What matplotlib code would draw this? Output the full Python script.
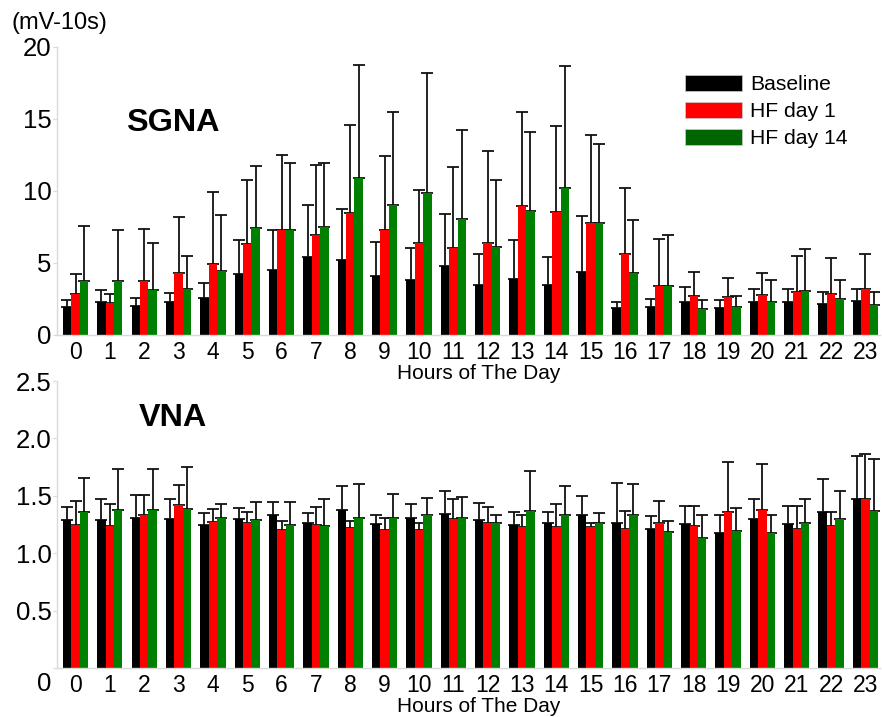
import numpy as np
import matplotlib
matplotlib.use('Agg')
import matplotlib.pyplot as plt
from matplotlib.patches import Patch
from matplotlib.transforms import ScaledTranslation

plt.rcParams['font.family'] = ['Liberation Sans', 'DejaVu Sans']

# Heures de la journee
hours = list(range(24))
series_names = ['Baseline', 'HF day 1', 'HF day 14']

# SGNA (mV-10s) : moyennes et bornes hautes des barres d'erreur
sgna_baseline = [1.97, 2.31, 2.01, 2.27, 2.59, 4.23, 4.49, 5.39, 5.18, 4.07, 3.79, 4.81,
                 3.49, 3.86, 3.45, 4.37, 1.90, 1.97, 2.27, 1.90, 2.27, 2.27, 2.17, 2.36]
sgna_baseline_top = [2.43, 3.10, 2.59, 2.89, 3.63, 6.57, 7.26, 9.02, 8.76, 6.47, 6.01, 8.37,
                     5.60, 6.61, 5.43, 8.23, 2.31, 2.52, 3.33, 2.43, 3.17, 3.21, 3.00, 3.17]
sgna_hf1 = [2.87, 2.22, 3.75, 4.32, 4.90, 6.34, 7.28, 6.91, 8.46, 7.28, 6.38, 6.03,
            6.38, 8.97, 8.55, 7.75, 5.64, 3.42, 2.71, 2.64, 2.80, 3.01, 2.84, 3.21]
sgna_hf1_top = [4.20, 2.84, 7.33, 8.18, 9.92, 10.73, 12.51, 11.77, 14.61, 12.46, 10.08, 11.63,
                12.76, 15.51, 14.52, 13.87, 10.22, 6.66, 4.37, 3.95, 4.32, 5.50, 5.32, 5.60]
sgna_hf14 = [3.75, 3.75, 3.12, 3.21, 4.44, 7.45, 7.28, 7.49, 10.87, 9.04, 9.83, 8.07,
             6.13, 8.60, 10.24, 7.75, 4.28, 3.40, 1.80, 1.97, 2.27, 3.05, 2.47, 2.10]
sgna_hf14_top = [7.56, 7.28, 6.38, 5.48, 8.35, 11.72, 11.91, 11.91, 18.75, 15.51, 18.17, 14.20,
                 10.75, 14.08, 18.68, 13.29, 7.98, 6.91, 2.43, 2.73, 3.84, 5.97, 3.79, 3.00]

# VNA
vna_baseline = [1.288, 1.290, 1.305, 1.296, 1.247, 1.296, 1.331, 1.259, 1.375, 1.253, 1.305, 1.343,
                1.290, 1.247, 1.259, 1.331, 1.265, 1.207, 1.253, 1.180, 1.296, 1.253, 1.357, 1.468]
vna_baseline_top = [1.404, 1.473, 1.511, 1.468, 1.354, 1.392, 1.447, 1.354, 1.584, 1.331, 1.433, 1.546,
                    1.441, 1.363, 1.357, 1.499, 1.610, 1.325, 1.410, 1.331, 1.473, 1.410, 1.647, 1.850]
vna_hf1 = [1.247, 1.233, 1.331, 1.421, 1.273, 1.265, 1.201, 1.247, 1.221, 1.201, 1.201, 1.296,
           1.259, 1.227, 1.227, 1.227, 1.209, 1.259, 1.233, 1.357, 1.375, 1.207, 1.238, 1.468]
vna_hf1_top = [1.453, 1.427, 1.511, 1.598, 1.383, 1.357, 1.285, 1.404, 1.285, 1.311, 1.267, 1.468,
               1.401, 1.337, 1.427, 1.265, 1.369, 1.459, 1.410, 1.798, 1.781, 1.415, 1.357, 1.868]
vna_hf14 = [1.363, 1.378, 1.378, 1.383, 1.305, 1.290, 1.247, 1.238, 1.305, 1.305, 1.331, 1.311,
            1.259, 1.369, 1.337, 1.265, 1.331, 1.186, 1.134, 1.192, 1.175, 1.265, 1.296, 1.369]
vna_hf14_top = [1.653, 1.731, 1.737, 1.755, 1.433, 1.447, 1.447, 1.473, 1.604, 1.517, 1.482, 1.494,
                1.331, 1.720, 1.589, 1.354, 1.604, 1.285, 1.331, 1.395, 1.331, 1.468, 1.540, 1.824]

bar_colors = ['#000000', '#ff0000', '#008000']
legend_colors = ['#000000', '#ff0000', '#006400']
spine_color = '#d9d9d9'

fig = plt.figure(figsize=(8.82, 7.17), dpi=100)
ax1 = fig.add_axes([0.0646, 0.5328, 0.933, 0.4017])
ax2 = fig.add_axes([0.0646, 0.0683, 0.933, 0.4003])
ax2.set_facecolor('none')  # sinon le fond cache le label du haut

x = np.arange(len(hours))
w = 0.245


def draw_panel(ax, means, tops):
    for i, (m, t) in enumerate(zip(means, tops)):
        m = np.array(m)
        err = np.array(t) - m
        pos = x + (i - 1) * w
        ax.bar(pos, m, width=w, color=bar_colors[i], edgecolor='none', zorder=2)
        ax.errorbar(pos, m, yerr=[np.zeros_like(err), err], fmt='none',
                    ecolor='#111111', elinewidth=1.3, capsize=4.3, capthick=1.3, zorder=1)
    ax.set_xlim(-0.54, 23.42)
    ax.set_xticks(x)
    ax.set_xticklabels([str(h) for h in hours])
    for s in ['top', 'right']:
        ax.spines[s].set_visible(False)
    for s in ['left', 'bottom']:
        ax.spines[s].set_color(spine_color)
        ax.spines[s].set_linewidth(1)
    ax.tick_params(axis='x', length=0, pad=4, labelsize=16.5)
    ax.tick_params(axis='y', length=3, color=spine_color, pad=1, labelsize=18.5)
    ax.set_xlabel('Hours of The Day', fontsize=15, labelpad=0.5)
    ax.xaxis.label.set_x(0.512)


# Panneau SGNA
draw_panel(ax1, [sgna_baseline, sgna_hf1, sgna_hf14],
           [sgna_baseline_top, sgna_hf1_top, sgna_hf14_top])
ax1.set_ylim(0, 20)
ax1.set_yticks([0, 5, 10, 15, 20])
ax1.text(0.084, 14.7, 'SGNA', fontsize=23.3, fontweight='bold', ha='left', va='center',
         transform=ax1.get_yaxis_transform())
fig.text(0.013, 0.968, '(mV-10s)', fontsize=17, ha='left', va='center')

handles = [Patch(facecolor=c, edgecolor='#cccccc', linewidth=0.5) for c in legend_colors]
ax1.legend(handles, series_names, loc='upper left', bbox_to_anchor=(685 / 882, 1 - 75 / 717),
           bbox_transform=fig.transFigure, frameon=False, fontsize=15.2, borderpad=0,
           borderaxespad=0, handlelength=2.7, handleheight=0.8, handletextpad=0.4,
           labelspacing=0.35)

# Panneau VNA
draw_panel(ax2, [vna_baseline, vna_hf1, vna_hf14],
           [vna_baseline_top, vna_hf1_top, vna_hf14_top])
ax2.set_ylim(0, 2.5)
ax2.set_yticks([0, 0.5, 1.0, 1.5, 2.0, 2.5])
ax2.set_yticklabels(['0', '0.5', '1.0', '1.5', '2.0', '2.5'])
ax2.text(0.1, 2.18, 'VNA', fontsize=23.3, fontweight='bold', ha='left', va='center',
         transform=ax2.get_yaxis_transform())
# le "0" est un peu plus bas dans l'original
lab0 = ax2.get_yticklabels()[0]
lab0.set_transform(lab0.get_transform() + ScaledTranslation(0, -13 / 100, fig.dpi_scale_trans))

fig.savefig('out.png', dpi=100)
